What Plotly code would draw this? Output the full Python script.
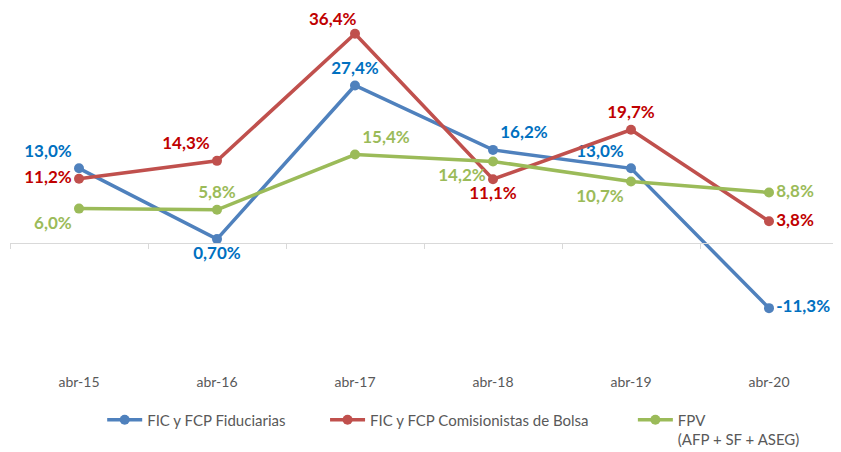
import plotly.graph_objects as go

# Data
periods = ["abr-15", "abr-16", "abr-17", "abr-18", "abr-19", "abr-20"]
fiduciarias = [13.0, 0.7, 27.4, 16.2, 13.0, -11.3]
comisionistas = [11.2, 14.3, 36.4, 11.1, 19.7, 3.8]
fpv = [6.0, 5.8, 15.4, 14.2, 10.7, 8.8]

fid_labels = ["13,0%", "0,70%", "27,4%", "16,2%", "13,0%", "-11,3%"]
com_labels = ["11,2%", "14,3%", "36,4%", "11,1%", "19,7%", "3,8%"]
fpv_labels = ["6,0%", "5,8%", "15,4%", "14,2%", "10,7%", "8,8%"]

series_names = [
    "FIC y FCP Fiduciarias",
    "FIC y FCP Comisionistas de Bolsa",
    "FPV<br>(AFP + SF + ASEG)",
]

FONT = "Lato, Carlito, sans-serif"

fig = go.Figure()

# the peak label sits close to the top edge, so it is drawn as an annotation
peak_idx = comisionistas.index(max(comisionistas))
com_text = [t if i != peak_idx else "" for i, t in enumerate(com_labels)]

traces = [
    (fiduciarias, fid_labels, "#4F81BD", "#0070C0",
     ["top left", "bottom center", "top center", "top right", "top left", "middle right"]),
    (comisionistas, com_text, "#C0504D", "#C00000",
     ["middle left", "top left", "top left", "bottom center", "top center", "middle right"]),
    (fpv, fpv_labels, "#9BBB59", "#9BBB59",
     ["bottom left", "top center", "top right", "bottom left", "bottom left", "middle right"]),
]

legend_ids = ["legend", "legend2", "legend3"]

for name, legend_id, (vals, labels, line_color, text_color, positions) in zip(
        series_names, legend_ids, traces):
    fig.add_trace(
        go.Scatter(
            x=periods,
            y=vals,
            name=name,
            legend=legend_id,
            mode="lines+markers+text",
            line=dict(color=line_color, width=3.5),
            marker=dict(color=line_color, size=10),
            text=labels,
            textposition=positions,
            textfont=dict(family=FONT, size=17, color=text_color, weight="bold"),
            cliponaxis=False,
            hoverinfo="skip",
        )
    )

fig.add_annotation(
    x=periods[peak_idx],
    y=comisionistas[peak_idx],
    text=com_labels[peak_idx],
    showarrow=False,
    xanchor="right",
    yanchor="bottom",
    xshift=4,
    yshift=3,
    font=dict(family=FONT, size=17, color="#C00000", weight="bold"),
)

# invisible trace carrying the zero-line axis with boundary ticks
fig.add_trace(
    go.Scatter(x=[0], y=[0], xaxis="x2", mode="markers", marker=dict(opacity=0),
               showlegend=False, hoverinfo="skip")
)

y_min, y_max = -22.4, 39.3


def legend_box(x):
    return dict(
        orientation="h",
        xref="container",
        x=x,
        xanchor="left",
        yref="container",
        y=0.125,
        yanchor="top",
        valign="top",
        font=dict(family=FONT, size=15, color="#595959"),
        itemwidth=35,
        bgcolor="rgba(0,0,0,0)",
    )


fig.update_layout(
    width=841,
    height=452,
    margin=dict(l=2, r=11, t=9, b=88),
    paper_bgcolor="white",
    plot_bgcolor="white",
    showlegend=True,
    xaxis=dict(
        type="category",
        range=[-0.5, 5.5],
        showgrid=False,
        showline=False,
        ticks="",
        tickfont=dict(family=FONT, size=14, color="#595959"),
    ),
    xaxis2=dict(
        overlaying="x",
        anchor="free",
        position=(0 - y_min) / (y_max - y_min),
        range=[-0.5, 5.5],
        showgrid=False,
        showline=True,
        linecolor="#D9D9D9",
        linewidth=1,
        ticks="outside",
        ticklen=5,
        tickcolor="#D9D9D9",
        tickvals=[-0.5, 0.5, 1.5, 2.5, 3.5, 4.5, 5.5],
        showticklabels=False,
        zeroline=False,
    ),
    yaxis=dict(
        range=[y_min, y_max],
        visible=False,
        showgrid=False,
        zeroline=False,
    ),
    legend=legend_box(0.112),
    legend2=legend_box(0.377),
    legend3=legend_box(0.743),
)

fig.write_html("out.html")
